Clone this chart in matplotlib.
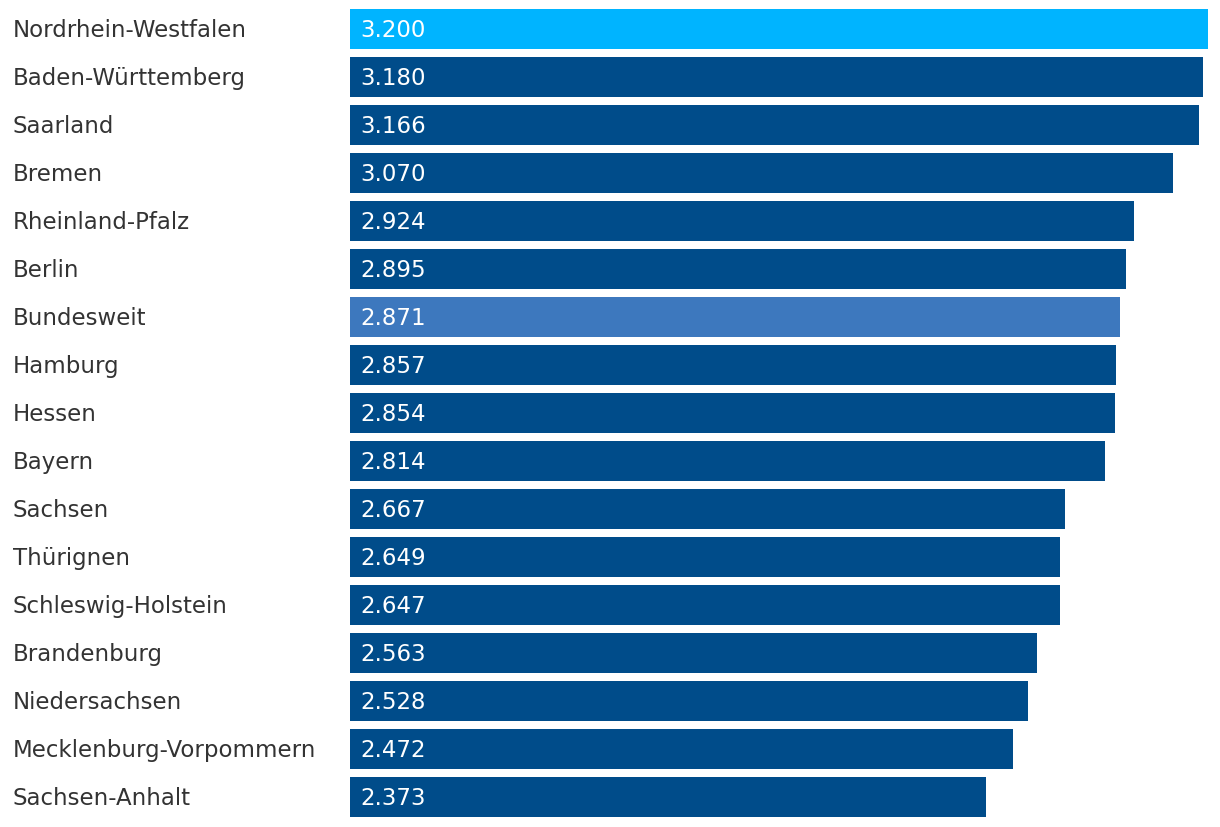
import matplotlib
matplotlib.use("Agg")
import matplotlib.pyplot as plt

# Data
regions = [
    "Nordrhein-Westfalen", "Baden-Württemberg", "Saarland", "Bremen",
    "Rheinland-Pfalz", "Berlin", "Bundesweit", "Hamburg", "Hessen",
    "Bayern", "Sachsen", "Thürignen", "Schleswig-Holstein", "Brandenburg",
    "Niedersachsen", "Mecklenburg-Vorpommern", "Sachsen-Anhalt",
]
values = [3200, 3180, 3166, 3070, 2924, 2895, 2871, 2857, 2854,
          2814, 2667, 2649, 2647, 2563, 2528, 2472, 2373]

DARK = "#004C8A"
HIGHLIGHT = {"Nordrhein-Westfalen": "#00B4FF", "Bundesweit": "#3D78BE"}
colors = [HIGHLIGHT.get(r, DARK) for r in regions]

plt.rcParams["font.family"] = "DejaVu Sans"

W, H = 1220, 828
fig = plt.figure(figsize=(W / 100, H / 100), dpi=100)
ax = fig.add_axes([350 / W, 6 / H, (1208 - 350) / W, 816 / H])

ypos = list(range(len(regions)))
ax.barh(ypos, values, height=0.833, color=colors)
ax.set_xlim(0, 3200)
ax.set_ylim(len(regions) - 0.5, -0.5)
ax.axis("off")

fmt = lambda v: f"{v:,}".replace(",", ".")
for y, r, v in zip(ypos, regions, values):
    ax.annotate(fmt(v), xy=(0, y), xycoords=("axes fraction", "data"),
                xytext=(10, -1), textcoords="offset pixels",
                color="white", fontsize=16.5, va="center", ha="left")
    ax.annotate(r, xy=(0, y), xycoords=("axes fraction", "data"),
                xytext=(13 - 350, -1), textcoords="offset pixels",
                color="#333333", fontsize=16.5, va="center", ha="left")

fig.savefig("out.png", dpi=100)
